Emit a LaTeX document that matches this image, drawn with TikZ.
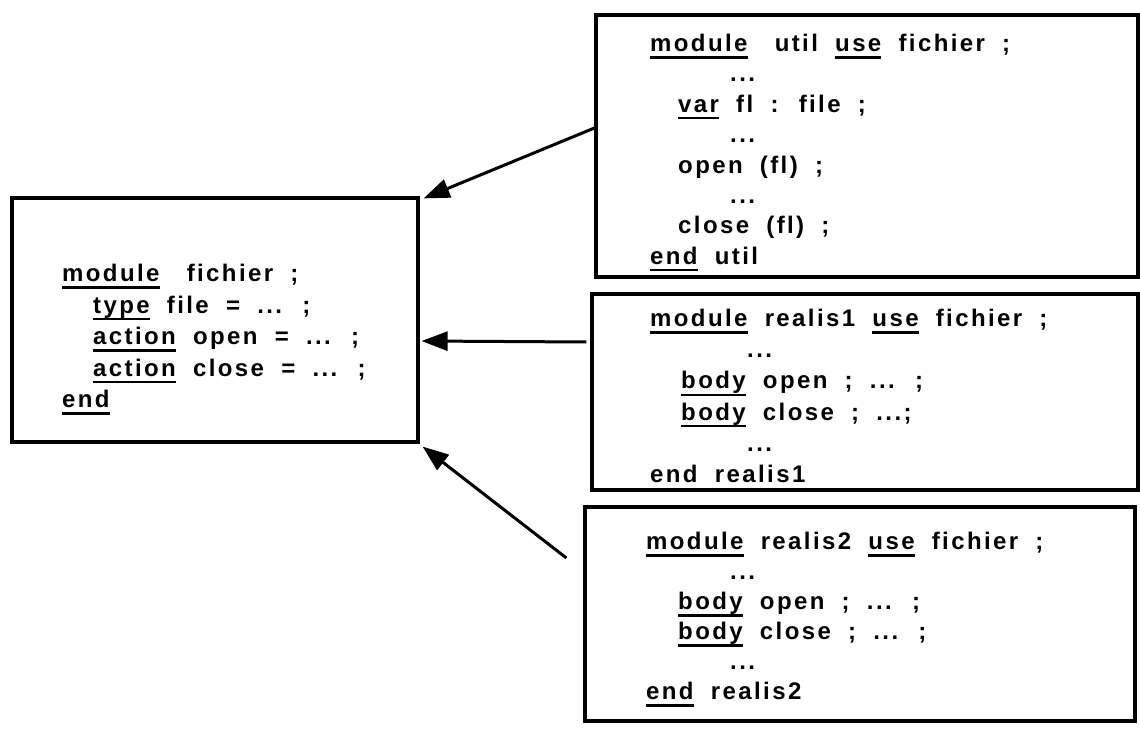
\documentclass[tikz,border=0pt]{standalone}
\usepackage{fontspec}
\newfontfamily\codefont{Liberation Sans Bold}[LetterSpace=10,WordSpace=1.9]
\usetikzlibrary{arrows.meta}
\newcommand\kw[1]{\setbox0\hbox{#1}\rlap{\rule[-7pt]{\wd0}{2.2pt}}\box0{}}

\begin{document}
\begin{tikzpicture}[x=1pt,y=-1pt,
  box/.style={draw,line width=3.2pt,inner sep=0pt},
  code/.style={inner sep=0pt,anchor=north west,align=left,
    font=\codefont\fontsize{24}{#1}\selectfont},
  code/.default=30.4,
  link/.style={line width=3pt,-{Triangle[length=26pt,width=19pt]}}]
\useasboundingbox[fill=white] (0,0) rectangle (1140,730);

% Module fichier
\node[box,minimum width=406,minimum height=244] (fichier) at (215,320) {};
\node[code=31.5] (fichiertxt) at (62,264) {%
\kw{module}\hspace{10pt} fichier ;\\
\hspace*{31pt}\kw{type} file = ... ;\\
\hspace*{31pt}\kw{action} open = ... ;\\
\hspace*{31pt}\kw{action} close = ... ;\\
\kw{end}};

% Module util
\node[box,minimum width=542,minimum height=262] (util) at (867,146) {};
\node[code] (utiltxt) at (650,34) {%
\kw{module}\hspace{10pt} util \kw{use} fichier ;\\
\hspace*{80pt}...\\
\hspace*{28pt}\kw{var} fl : file ;\\
\hspace*{80pt}...\\
\hspace*{28pt}open (fl) ;\\
\hspace*{80pt}...\\
\hspace*{28pt}close (fl) ;\\
\kw{end} util};

% Module realis1
\node[box,minimum width=546,minimum height=196] (realisA) at (865,392) {};
\node[code=31.2] (realisAtxt) at (650,309) {%
\kw{module} realis1 \kw{use} fichier ;\\
\hspace*{97pt}...\\
\hspace*{31pt}\kw{body} open ; ... ;\\
\hspace*{31pt}\kw{body} close ; ...;\\
\hspace*{97pt}...\\
end realis1};

% Module realis2
\node[box,minimum width=550,minimum height=214] (realisB) at (860,614) {};
\node[code=30] (realisBtxt) at (646,532) {%
\kw{module} realis2 \kw{use} fichier ;\\
\hspace*{84pt}...\\
\hspace*{32pt}\kw{body} open ; ... ;\\
\hspace*{32pt}\kw{body} close ; ... ;\\
\hspace*{84pt}...\\
\kw{end} realis2};

% Uses
\draw[link] ([yshift=18]util.west) -- ([xshift=4,yshift=-2]fichier.north east);
\draw[link] ([xshift=-4,yshift=50]realisA.west) -- ([xshift=2,yshift=-21]fichier.east);
\draw[link] ([xshift=-17,yshift=56]realisB.west) -- ([xshift=3,yshift=-3]fichier.south east);
\end{tikzpicture}
\end{document}
